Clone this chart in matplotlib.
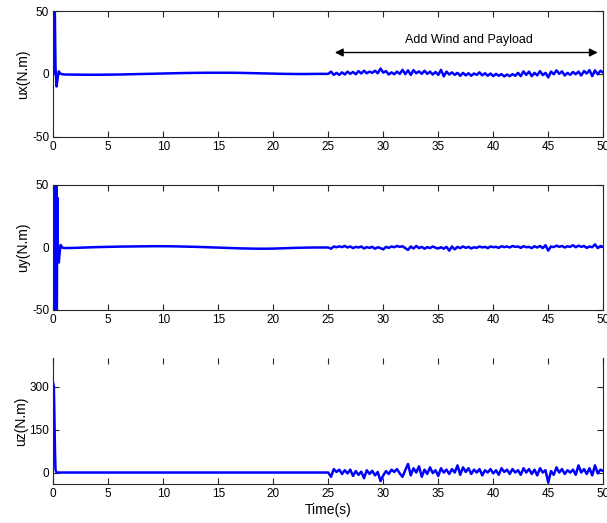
import numpy as np
import matplotlib.pyplot as plt

plt.rcParams['font.family'] = ['Liberation Sans', 'DejaVu Sans']
plt.rcParams['axes.unicode_minus'] = False

# start-up transient + slow drift (0 - 25 s)
ux_t = [0, 0.05, 0.1, 0.15, 0.2, 0.3, 0.4, 0.5, 0.6, 0.8, 1, 2, 3, 4, 5, 6, 7, 8, 9, 10,
        11, 12, 13, 14, 15, 16, 17, 18, 19, 20, 21, 22, 23, 24, 25]
ux_v = [0, 90, 80, 40, 5, -10, -3, 2, 0.5, -0.3, -0.5, -0.6, -0.7, -0.7, -0.6, -0.5, -0.3, -0.1, 0.1, 0.3,
        0.5, 0.7, 0.8, 0.9, 0.9, 0.9, 0.8, 0.6, 0.4, 0.2, 0.0, -0.1, -0.1, 0.0, 0.0]

uy_t = [0, 0.04, 0.08, 0.12, 0.16, 0.2, 0.24, 0.28, 0.32, 0.36, 0.42, 0.5, 0.6, 0.67, 0.8, 1, 2, 3, 4, 5, 6, 7, 8, 9, 10,
        11, 12, 13, 14, 15, 16, 17, 18, 19, 20, 21, 22, 23, 24, 25]
uy_v = [0, 90, -90, 90, -90, 80, -80, 70, -60, 40, -5, -12, -2, 2, 0, -0.5, -0.3, 0.0, 0.3, 0.5, 0.7, 0.8, 0.9, 1.0, 1.0,
        0.9, 0.7, 0.5, 0.2, -0.1, -0.4, -0.7, -0.9, -1.0, -0.9, -0.6, -0.3, -0.1, 0.0, 0.0]

uz_t = [0, 0.05, 0.1, 0.15, 0.2, 0.3, 1, 5, 10, 15, 20, 25]
uz_v = [310, 300, 200, 80, 10, 0, 0, 0, 0, 0, 0, 0]

# wind + payload disturbance (25 - 50 s, every 0.25 s)
t_noise = np.arange(25, 50.001, 0.25)
ux_noise = [0.0, 1.8, -0.8, 0.8, -0.8, 1.2, -0.5, 1.8, 0.0, 1.5, -0.3, 2.2, 0.3, 2.5, 0.5, 1.8, 0.8, 2.5, 0.5, 4.2,
            1.0, 2.2, -0.5, 1.2, -0.3, 1.8, 0.0, 3.2, -0.2, 2.8, -0.8, 3.0, 0.5, 2.0, 0.0, 2.5, 0.0, 1.8, -0.5, 1.5,
            -0.8, 3.2, -2.0, 1.8, -0.5, 1.2, -0.8, 0.8, -1.5, 0.8, -1.2, 0.5, -1.5, 0.3, -0.8, 1.2, -1.2, 0.5, -1.5, 0.3,
            -1.8, 0.0, -1.5, -0.2, -2.0, -0.5, -1.8, -0.2, -1.5, 0.8, -1.8, 2.0, -0.8, 1.8, -1.8, 0.8, -1.2, 2.2, -1.0, 0.8,
            -2.8, 1.8, -0.3, 2.8, 0.0, 2.0, -1.3, 0.8, -0.8, 1.5, -0.3, 1.8, -1.3, 2.3, 0.3, 3.0, -1.8, 2.8, -0.3, 2.5,
            1.0]
uy_noise = [0.0, -1.0, 0.8, 0.2, 0.9, 0.3, 1.2, 0.0, 0.8, -0.5, 0.5, 0.0, 0.8, -0.8, 0.3, -0.3, 0.5, -1.0, 0.2, -0.5,
            -1.5, 0.5, -0.3, 0.8, 0.2, 1.2, 0.5, 1.0, -0.5, -2.0, 0.8, -0.8, 1.2, -0.5, 0.5, -1.0, 0.3, -0.5, 0.8, -0.2,
            -0.8, 0.2, -1.0, 0.5, -2.5, 0.8, -1.5, 0.5, -0.5, 0.8, -0.3, 0.5, -0.8, 0.2, -0.3, 0.8, 0.0, 0.5, -0.5, 0.8,
            0.2, 0.5, -0.3, 1.0, 0.3, 0.8, 0.0, 1.2, 0.5, 0.8, -0.3, 1.0, 0.2, 0.5, -0.5, 1.0, 0.0, 1.2, -0.5, 1.8,
            -2.5, 0.8, 0.3, 1.5, 0.5, 1.2, 0.0, 1.0, 0.5, 1.8, 0.2, 1.5, 0.5, 1.2, -0.3, 0.8, 0.2, 2.5, -0.5, 1.2,
            0.5]
uz_noise = [0, -15, 12, 2, 10, -5, 8, -3, 10, -12, 5, -8, 3, -20, 8, -5, 6, -10, 2, -30,
            -10, 5, -5, 10, 2, 12, -3, -15, 8, 30, -10, 15, 0, 22, -15, 10, -5, 18, -2, 8,
            -12, 15, 0, 10, -5, 12, 0, 25, -8, 18, 2, 15, -5, 10, 0, 12, -10, 8, 0, 12,
            -3, 8, -8, 15, 2, 10, -5, 12, 0, 8, -8, 15, 0, 12, -5, 10, -10, 15, 0, 8,
            -35, 5, -8, 18, 0, 12, -5, 8, 0, 10, -8, 25, 0, 12, -5, 15, -10, 25, -3, 10,
            5]

series = [
    (ux_t, ux_v, ux_noise, 'ux(N.m)', (-50, 50), [-50, 0, 50]),
    (uy_t, uy_v, uy_noise, 'uy(N.m)', (-50, 50), [-50, 0, 50]),
    (uz_t, uz_v, uz_noise, 'uz(N.m)', (-40, 400), [0, 150, 300]),
]

fig = plt.figure(figsize=(6.07, 5.23), dpi=100)
boxes = [[0.0878, 0.7386, 0.906, 0.2403],
         [0.0878, 0.4073, 0.906, 0.2390],
         [0.0878, 0.0746, 0.906, 0.2410]]

axes = []
for box, (t0, v0, vn, lab, lim, yt) in zip(boxes, series):
    ax = fig.add_axes(box)
    t = np.concatenate([t0, t_noise[1:]])
    v = np.concatenate([v0, vn[1:]])
    ax.plot(t, v, color='#0000ff', lw=1.8)
    ax.set_xlim(0, 50)
    ax.set_ylim(*lim)
    ax.set_xticks(np.arange(0, 51, 5))
    ax.set_yticks(yt)
    ax.set_ylabel(lab, fontsize=10, labelpad=1)
    ax.tick_params(direction='in', top=True, right=True, labelsize=8.5, length=4,
                   color='#262626', pad=3)
    for s in ax.spines.values():
        s.set_color('#262626')
        s.set_linewidth(0.8)
    axes.append(ax)

axes[2].spines['top'].set_visible(False)
axes[2].set_xlabel('Time(s)', fontsize=10, labelpad=2)

axes[0].annotate('', xy=(25.6, 17), xytext=(49.5, 17),
                 arrowprops=dict(arrowstyle='<|-|>', color='black', lw=1.0,
                                 mutation_scale=12, shrinkA=0, shrinkB=0))
axes[0].text(37.8, 27, 'Add Wind and Payload', fontsize=9, ha='center', va='center')

fig.savefig('out.png', dpi=100)
